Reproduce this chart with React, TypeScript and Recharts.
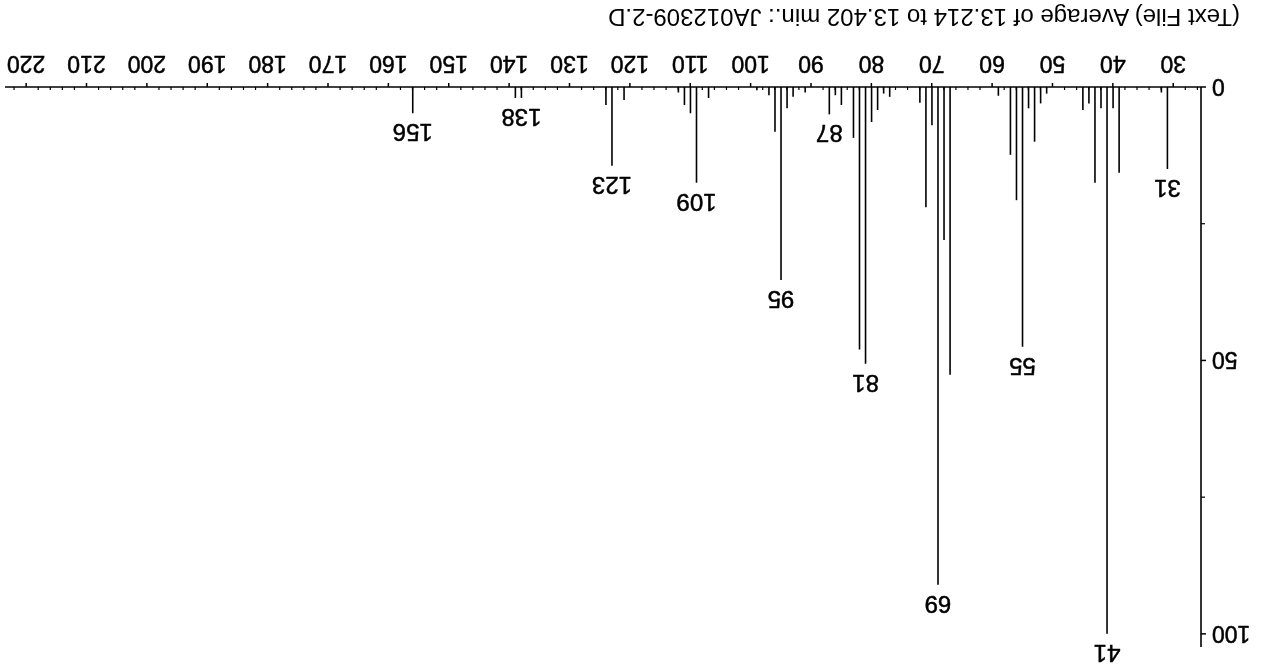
import React from "react";
import { BarChart, Bar, XAxis, YAxis, LabelList } from "recharts";

// m/z values and relative abundance (%)
const masses = [
  31, 32, 39, 40, 41, 42, 43, 44, 45, 51, 52, 53, 54, 55, 56, 57, 59, 67, 68,
  69, 70, 71, 72, 77, 78, 79, 80, 81, 82, 83, 85, 86, 87, 91, 93, 94, 95, 96,
  97, 99, 107, 109, 110, 111, 112, 121, 123, 124, 138, 139, 156,
];
const abundances = [
  15, 1, 15.7, 3.9, 100, 3.9, 17.5, 3, 4.2, 1.2, 3, 10, 3.9, 47.5, 20.7, 12.4,
  1.6, 52.6, 28, 91, 7, 22, 2.9, 1.8, 1.2, 4.2, 6.4, 50.6, 48, 9.3, 3.3, 1.5, 5,
  1, 1.8, 3.9, 35.3, 8.2, 1.5, 0.6, 2, 17.5, 4.8, 3.3, 1, 2.4, 14.4, 3.3, 2, 2,
  4.8,
];
const labeledMasses = [31, 41, 55, 69, 81, 87, 95, 109, 123, 138, 156];

const majorXTicks = [
  30, 40, 50, 60, 70, 80, 90, 100, 110, 120, 130, 140, 150, 160, 170, 180, 190,
  200, 210, 220,
];
const minorXTicks = Array.from({ length: 99 }, (_, i) => 26 + i * 2).filter(
  (v) => v % 10 !== 0
);
const yTicks = [0, 25, 50, 75, 100];
const yLabeled = [0, 50, 100];

const title = "(Text File) Average of 13.214 to 13.402 min.: JA012309-2.D";

const data = masses.map((m, i) => ({
  mz: m,
  abundance: abundances[i],
  label: labeledMasses.includes(m) ? String(m) : undefined,
}));

const FONT = "'Liberation Sans', Arial, Helvetica, sans-serif";
const X_TICK_SIZE = 4;
const X_TICK_MARGIN = 11;
const Y_TICK_SIZE = 5;
const Y_TICK_MARGIN = 6;

const XTick = (props: any) => {
  const { x, y, payload } = props;
  const axisY = y - X_TICK_SIZE - X_TICK_MARGIN;
  if (payload.value % 10 !== 0) {
    return (
      <line x1={x} x2={x} y1={axisY} y2={axisY - 3} stroke="#000" strokeWidth={1.2} />
    );
  }
  return (
    <g>
      <line x1={x} x2={x} y1={axisY} y2={axisY + X_TICK_SIZE} stroke="#000" strokeWidth={1.5} />
      <text
        x={x}
        y={y}
        dy="0.71em"
        textAnchor="middle"
        fill="#000"
        stroke="#000"
        strokeWidth={0.5}
        fontSize={23}
        fontFamily={FONT}
      >
        {payload.value}
      </text>
    </g>
  );
};

const YTick = (props: any) => {
  const { x, y, payload } = props;
  const axisX = x + Y_TICK_MARGIN + Y_TICK_SIZE;
  if (!yLabeled.includes(payload.value)) {
    return (
      <line x1={axisX} x2={axisX - 4} y1={y} y2={y} stroke="#000" strokeWidth={1.2} />
    );
  }
  return (
    <g>
      <line x1={axisX - Y_TICK_SIZE} x2={axisX} y1={y} y2={y} stroke="#000" strokeWidth={1.5} />
      <text
        x={x}
        y={y}
        dy="0.355em"
        textAnchor="end"
        fill="#000"
        stroke="#000"
        strokeWidth={0.5}
        fontSize={23}
        fontFamily={FONT}
      >
        {payload.value}
      </text>
    </g>
  );
};

export default function App() {
  return (
    <div
      style={{
        position: "fixed",
        left: 0,
        top: 0,
        width: 1277,
        height: 667,
        background: "#fff",
        transform: "rotate(180deg)",
        transformOrigin: "50% 50%",
      }}
    >
      <BarChart
        width={1277}
        height={667}
        data={data}
        margin={{ top: 20, right: 5, left: 16, bottom: 57 }}
      >
        <XAxis
          dataKey="mz"
          type="number"
          domain={[25.4, 223.5]}
          allowDataOverflow
          ticks={[...majorXTicks, ...minorXTicks].sort((a, b) => a - b)}
          interval={0}
          height={30}
          tickSize={X_TICK_SIZE}
          tickMargin={X_TICK_MARGIN}
          tickLine={false}
          tick={<XTick />}
          axisLine={{ stroke: "#000", strokeWidth: 1.6 }}
        />
        <YAxis
          type="number"
          domain={[0, 102.4]}
          allowDataOverflow
          ticks={yTicks}
          interval={0}
          width={60}
          tickSize={Y_TICK_SIZE}
          tickMargin={Y_TICK_MARGIN}
          tickLine={false}
          tick={<YTick />}
          axisLine={{ stroke: "#000", strokeWidth: 1.6 }}
        />
        <Bar
          dataKey="abundance"
          fill="#000"
          barSize={1.6}
          isAnimationActive={false}
        >
          <LabelList
            dataKey="label"
            position="top"
            offset={11}
            fill="#000"
            stroke="#000"
            strokeWidth={0.5}
            fontSize={24}
            fontFamily={FONT}
          />
        </Bar>
      </BarChart>
      <div
        style={{
          position: "absolute",
          left: 37,
          top: 638,
          fontFamily: FONT,
          fontSize: 24,
          lineHeight: "24px",
          color: "#000",
          whiteSpace: "nowrap",
        }}
      >
        {title}
      </div>
    </div>
  );
}
